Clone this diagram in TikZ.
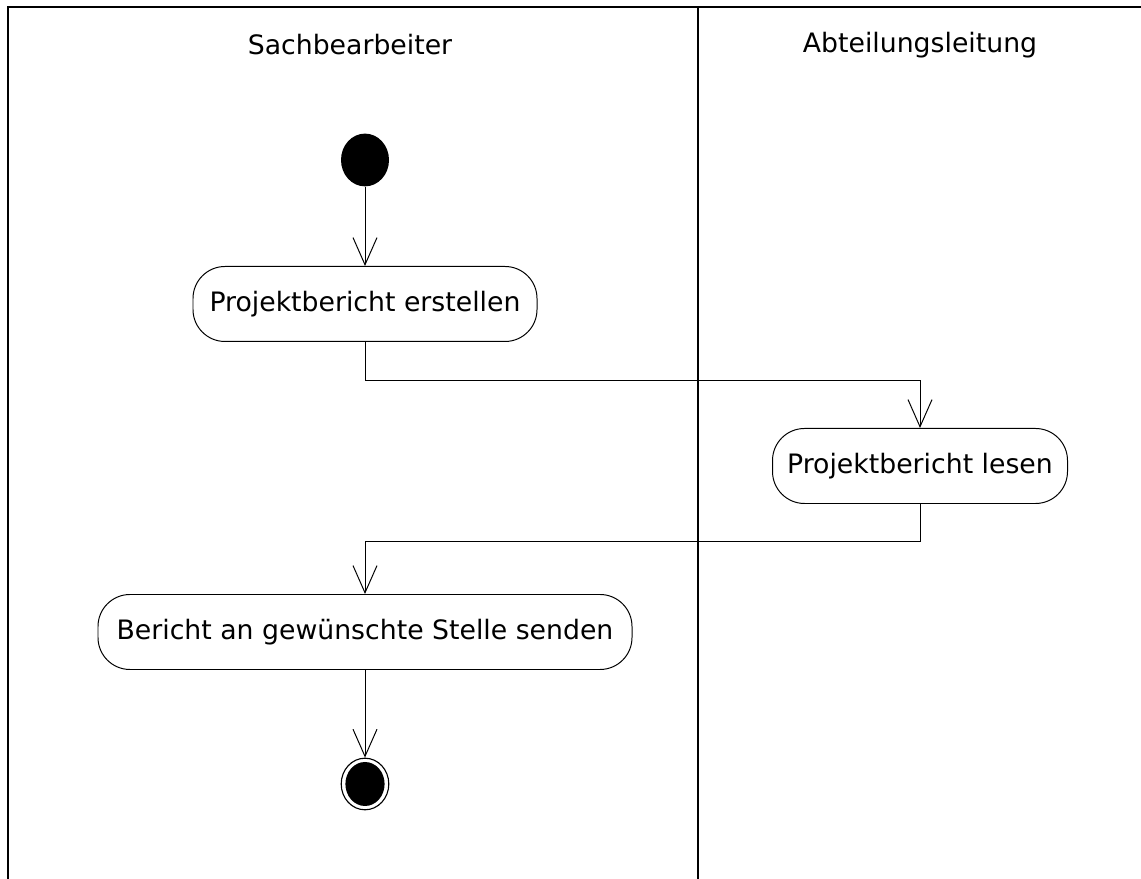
\documentclass[tikz,border=0pt]{standalone}
\usepackage{fontspec}
\setmainfont{DejaVu Sans}
\usetikzlibrary{arrows.meta,shapes.geometric}

\begin{document}
\begin{tikzpicture}[every node/.style={font=\fontsize{19}{23}\selectfont},
    lane/.style={line width=0.05cm},
    action/.style={draw, line width=0.7pt, rounded corners=0.8cm, minimum height=1.875cm, inner xsep=0.3cm},
    startnode/.style={ellipse, fill=black, minimum width=1.2cm, minimum height=1.32cm, inner sep=0pt},
    endnode/.style={ellipse, draw, line width=0.8pt, minimum width=1.19cm, minimum height=1.29cm, inner sep=0pt,
        path picture={\fill (path picture bounding box.center) ellipse (0.49cm and 0.55cm);}},
    flow/.style={line width=0.7pt, -{Straight Barb[length=0.68cm, width=0.6cm, line width=0.7pt]}}]
    \useasboundingbox (0,0) rectangle (28.525,21.975);

    % swimlanes
    \draw[lane] (0.2,0) -- (0.2,21.8) -- (28.525,21.8);
    \draw[lane] (17.45,0) -- (17.45,21.8);
    \node (sach) at (8.75,20.85) {Sachbearbeiter};
    \node (abt) at (23.0,20.85) {Abteilungsleitung};

    % activities
    \node[startnode] (start) at (9.125,17.975) {};
    \node[action, minimum width=8.6cm] (erstellen) at (9.125,14.375) {Projektbericht erstellen};
    \node[action, minimum width=7.375cm] (lesen) at (23.0,10.325) {Projektbericht lesen};
    \node[action, minimum width=13.35cm] (senden) at (9.125,6.175) {Bericht an gewünschte Stelle senden};
    \node[endnode] (stop) at (9.125,2.375) {};

    \draw[flow] (start) -- (erstellen);
    \draw[flow] (erstellen.south) -- ++(0,-0.975) -| (lesen.north);
    \draw[flow] (lesen.south) -- ++(0,-0.95) -| (senden.north);
    \draw[flow] (senden) -- (stop);

\end{tikzpicture}
\end{document}
